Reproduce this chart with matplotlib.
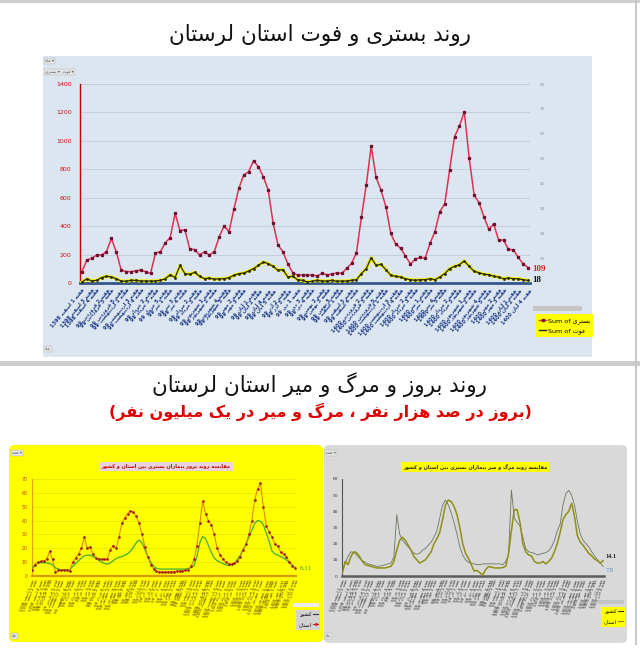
"""
Lorestan COVID charts: hospitalisation / death trend and incidence / mortality comparison.
"""
import re

import numpy as np
import matplotlib
matplotlib.use("Agg")
import matplotlib.pyplot as plt
from matplotlib.patches import Rectangle, FancyBboxPatch
from matplotlib.lines import Line2D

# ---- data -------------------------------------------------------------
hosp = [80, 162, 174, 197, 197, 220, 314, 220, 91, 80,
        80, 85, 91, 80, 68, 211, 220, 283, 319, 490,
        368, 375, 239, 235, 197, 220, 197, 220, 326, 401,
        361, 520, 666, 760, 783, 860, 818, 748, 654, 420,
        267, 220, 134, 72, 56, 56, 56, 56, 50, 68,
        56, 63, 72, 68, 103, 138, 213, 462, 689, 964,
        743, 654, 537, 349, 274, 244, 190, 134, 166, 181,
        174, 279, 361, 502, 556, 795, 1029, 1104, 1205, 877,
        619, 565, 466, 378, 415, 302, 302, 237, 233, 181,
        134, 109]
deaths = [7, 30, 14, 19, 38, 47, 42, 30, 14, 12,
          19, 19, 14, 14, 14, 14, 19, 30, 59, 38,
          124, 66, 61, 75, 47, 30, 35, 26, 30, 30,
          38, 54, 66, 70, 84, 101, 124, 148, 136, 117,
          89, 94, 42, 47, 23, 19, 7, 12, 19, 14,
          14, 19, 12, 14, 14, 19, 23, 66, 101, 178,
          124, 131, 94, 54, 47, 42, 30, 23, 19, 23,
          23, 30, 23, 42, 66, 101, 117, 129, 155, 117,
          82, 73, 61, 59, 47, 42, 30, 35, 30, 30,
          23, 18]

inc_prov = [4.5, 8, 10, 10.5, 11, 12, 18, 12, 3, 4,
            4.5, 4.5, 4, 3.5, 10, 13, 16, 20, 28, 20,
            21, 16, 13, 12.5, 12, 12, 12.5, 19, 22, 20,
            28, 38, 42, 45, 47, 46, 43, 38, 30, 21,
            14, 8, 5, 3.5, 3, 3, 3, 3, 3, 3.2,
            3.5, 3.5, 3.8, 4, 4.5, 7, 12, 22, 38, 54,
            45, 40, 37, 30, 20, 15, 12, 10, 9, 8.5,
            9.5, 10.5, 14, 19, 23, 30, 40, 55, 63, 67,
            50, 36, 32, 28, 23, 22, 17, 16, 14, 10,
            7.5, 5.5]
inc_country = [5.5, 8.5, 9.5, 9.5, 9.5, 9.5, 9, 8, 6, 5,
               4.5, 4.3, 4.3, 4.5, 7, 9, 11, 13, 14.5, 15,
               15, 14, 13, 11.5, 10, 9, 8.5, 9.5, 11, 12.5,
               13.5, 14, 15, 16, 18, 21, 24, 26, 24, 19,
               14, 10, 7, 5.5, 5, 5, 5, 5, 5, 5,
               5, 5, 5, 5, 5.5, 6, 7.5, 14, 24, 28.5,
               27, 22, 17, 13, 11, 10, 9, 8, 7.5, 8,
               9, 12, 15, 19, 23, 28, 33, 38, 40, 39.5,
               37, 31, 25, 18, 16, 15, 14, 13, 11.5, 10,
               8, 6]

mort_prov = [1.6, 9, 7, 12, 15, 14.5, 12, 9, 7, 6.5,
             6, 5.5, 5, 5, 5, 5, 5.5, 6, 9, 16,
             22, 24, 22, 19, 16, 12, 10, 8, 9, 10,
             12.5, 15, 20, 23, 27, 35, 44, 47, 46, 43,
             38, 30, 20, 14, 11, 7, 3, 3.5, 2, 0.6,
             4, 5.8, 5.5, 5, 5, 5, 5.2, 6, 14, 28,
             41, 41, 33, 20, 15, 13, 12.5, 9, 8, 8,
             9, 7.5, 9, 11, 15, 20, 27, 35, 38, 40,
             45, 37, 25, 21, 19, 16.5, 14, 12.5, 10.5, 9.5,
             8, 9.5]
mort_country = [2.5, 8, 12, 15, 14.5, 13, 11, 9.5, 8.5, 7.5,
                7, 6.5, 6, 6, 6.5, 7, 7.5, 8, 12, 38,
                26, 22, 20, 18, 16, 14, 13.5, 14, 16, 17,
                19, 21, 24, 28, 36, 44, 47, 44, 39, 33,
                26, 18, 13, 10, 8.5, 8, 7.5, 7, 7, 7.5,
                7.5, 7.5, 7.5, 7.5, 7.5, 7.5, 7, 9, 13, 53,
                36, 33, 31, 24, 17, 15, 14.5, 14, 13, 13.5,
                14, 14.5, 15.5, 18, 22, 28, 32, 44, 51, 53,
                50, 44, 34, 26, 22, 20, 18, 15, 12.5, 10,
                8, 6]

months = [(1398, "اسفند")] + \
         [(1399, m) for m in ["فروردین", "اردیبهشت", "خرداد", "تیر", "مرداد", "شهریور",
                              "مهر", "آبان", "آذر", "دی", "بهمن", "اسفند"]] + \
         [(1400, m) for m in ["فروردین", "اردیبهشت", "خرداد", "تیر", "مرداد", "شهریور",
                              "مهر", "آبان"]]
weeks_per_month = [4, 5, 4, 5, 4, 4, 5, 4, 5, 4, 4, 5, 4, 5, 4, 4, 5, 4, 5, 4, 4]

# ---- persian text helpers (matplotlib has no shaping / bidi) ------------
FORMS = {
    'ا': (0xFE8D, 0xFE8E, None, None), 'آ': (0xFE81, 0xFE82, None, None),
    'ب': (0xFE8F, 0xFE90, 0xFE91, 0xFE92), 'پ': (0xFB56, 0xFB57, 0xFB58, 0xFB59),
    'ت': (0xFE95, 0xFE96, 0xFE97, 0xFE98), 'ث': (0xFE99, 0xFE9A, 0xFE9B, 0xFE9C),
    'ج': (0xFE9D, 0xFE9E, 0xFE9F, 0xFEA0), 'چ': (0xFB7A, 0xFB7B, 0xFB7C, 0xFB7D),
    'ح': (0xFEA1, 0xFEA2, 0xFEA3, 0xFEA4), 'خ': (0xFEA5, 0xFEA6, 0xFEA7, 0xFEA8),
    'د': (0xFEA9, 0xFEAA, None, None), 'ذ': (0xFEAB, 0xFEAC, None, None),
    'ر': (0xFEAD, 0xFEAE, None, None), 'ز': (0xFEAF, 0xFEB0, None, None),
    'ژ': (0xFB8A, 0xFB8B, None, None),
    'س': (0xFEB1, 0xFEB2, 0xFEB3, 0xFEB4), 'ش': (0xFEB5, 0xFEB6, 0xFEB7, 0xFEB8),
    'ص': (0xFEB9, 0xFEBA, 0xFEBB, 0xFEBC), 'ض': (0xFEBD, 0xFEBE, 0xFEBF, 0xFEC0),
    'ط': (0xFEC1, 0xFEC2, 0xFEC3, 0xFEC4), 'ظ': (0xFEC5, 0xFEC6, 0xFEC7, 0xFEC8),
    'ع': (0xFEC9, 0xFECA, 0xFECB, 0xFECC), 'غ': (0xFECD, 0xFECE, 0xFECF, 0xFED0),
    'ف': (0xFED1, 0xFED2, 0xFED3, 0xFED4), 'ق': (0xFED5, 0xFED6, 0xFED7, 0xFED8),
    'ک': (0xFB8E, 0xFB8F, 0xFB90, 0xFB91), 'گ': (0xFB92, 0xFB93, 0xFB94, 0xFB95),
    'ل': (0xFEDD, 0xFEDE, 0xFEDF, 0xFEE0), 'م': (0xFEE1, 0xFEE2, 0xFEE3, 0xFEE4),
    'ن': (0xFEE5, 0xFEE6, 0xFEE7, 0xFEE8), 'و': (0xFEED, 0xFEEE, None, None),
    'ه': (0xFEE9, 0xFEEA, 0xFEEB, 0xFEEC), 'ی': (0xFBFC, 0xFBFD, 0xFBFE, 0xFBFF),
}
LAM_ALEF = {'ا': (0xFEFB, 0xFEFC), 'آ': (0xFEF5, 0xFEF6)}


def shape(s):
    out = []
    i = 0
    while i < len(s):
        c = s[i]
        if c not in FORMS:
            out.append(c)
            i += 1
            continue
        prev = s[i - 1] if i > 0 else None
        joins_prev = prev in FORMS and FORMS[prev][2] is not None
        if c == 'ل' and i + 1 < len(s) and s[i + 1] in LAM_ALEF:
            lig = LAM_ALEF[s[i + 1]]
            out.append(chr(lig[1] if joins_prev else lig[0]))
            i += 2
            continue
        nxt = s[i + 1] if i + 1 < len(s) else None
        iso, fin, ini, med = FORMS[c]
        joins_next = ini is not None and nxt in FORMS
        if joins_prev and joins_next:
            out.append(chr(med))
        elif joins_prev:
            out.append(chr(fin))
        elif joins_next:
            out.append(chr(ini))
        else:
            out.append(chr(iso))
        i += 1
    return ''.join(out)


def fa(text):
    """shape + reverse to visual order, digit runs stay left-to-right"""
    parts = re.findall(r'[0-9A-Za-z.]+|[^0-9A-Za-z.]+', shape(text))
    vis = []
    for p in reversed(parts):
        if re.match(r'[0-9A-Za-z.]', p):
            vis.append(p)
        else:
            vis.append(p[::-1].translate(str.maketrans('()', ')(')))
    return ''.join(vis)


week_labels = []
for (yr, m), nw in zip(months, weeks_per_month):
    ys = "99" if yr == 1399 else str(yr)
    for w in range(1, nw + 1):
        week_labels.append(fa(f"هفته {w} {m} {ys}"))

# ---- figure ----------------------------------------------------------
W, H = 640, 660
plt.rcParams['font.family'] = ['DejaVu Sans']
fig = plt.figure(figsize=(W / 100, H / 100), dpi=100)


def box(x0, y0, x1, y1):
    return [x0 / W, 1 - y1 / H, (x1 - x0) / W, (y1 - y0) / H]


def fx(x):
    return x / W


def fy(y):
    return 1 - y / H


def panel(x0, y0, x1, y1, color, round_=False):
    if round_:
        p = FancyBboxPatch((fx(x0), fy(y1)), (x1 - x0) / W, (y1 - y0) / H,
                           boxstyle="round,pad=0,rounding_size=0.008",
                           facecolor=color, edgecolor='none',
                           transform=fig.transFigure, zorder=-1)
    else:
        p = Rectangle((fx(x0), fy(y1)), (x1 - x0) / W, (y1 - y0) / H,
                      facecolor=color, edgecolor='none',
                      transform=fig.transFigure, zorder=-1)
    fig.add_artist(p)


def tag(x, y, s, size=3):
    fig.text(fx(x), fy(y), s, fontsize=size, color='#555555', ha='left', va='center',
             bbox=dict(boxstyle='square,pad=0.25', facecolor='#e4e4e4', edgecolor='#b0b0b0', lw=0.3))


# screenshot frame lines
panel(0, 0, 640, 3, '#cfcfcf')
panel(0, 361, 640, 366, '#cdcdcd')
panel(635, 0, 637, 645, '#c8c8c8')

x = np.arange(len(hosp))

# ---------------- top chart -----------------
fig.text(0.5, fy(35), fa("روند بستری و فوت استان لرستان"), ha='center', va='center',
         fontsize=15.5, color='#111111')
panel(43, 56, 592, 357, '#dce6f1')
tag(45, 61, fa("ماه") + " ▾")
tag(45, 72, fa("بستری") + " ▾  " + fa("فوت") + " ▾")
tag(45, 349, fa("ماه"))

ax1 = fig.add_axes(box(80, 84, 530, 283))
ax1.patch.set_visible(False)
ax1.set_xlim(-0.4, len(hosp) - 0.6)
ax1.set_ylim(0, 1400)
ax1.set_yticks(range(0, 1401, 200))
ax1.tick_params(axis='y', length=0, labelsize=4.5, labelcolor='#d01010', pad=6)
ax1.grid(axis='y', color='#c4cfdc', lw=0.7)
ax1.set_axisbelow(True)
for s in ['top', 'right']:
    ax1.spines[s].set_visible(False)
ax1.spines['left'].set_color('#c00000')
ax1.spines['left'].set_linewidth(1.0)
ax1.spines['bottom'].set_color('#34568b')
ax1.spines['bottom'].set_linewidth(2)

ax1.plot(x, deaths, color='#f2f200', lw=2.4, solid_joinstyle='round', zorder=3)
ax1.plot(x, deaths, color='#2a2a10', lw=0.9, marker='o', ms=1.0, zorder=4)
ax1.plot(x, hosp, color='#e03050', lw=1.1, marker='s', ms=1.4,
         mfc='#6e1030', mec='#6e1030', zorder=5)
ax1.annotate(str(hosp[-1]), xy=(x[-1], hosp[-1]), xytext=(3, -1), textcoords='offset points',
             color='#e02020', fontsize=6.5, family='Liberation Serif', weight='bold', va='center')
ax1.annotate(str(deaths[-1]), xy=(x[-1], deaths[-1]), xytext=(3, 0), textcoords='offset points',
             color='#111111', fontsize=6.5, family='Liberation Serif', weight='bold', va='center')

ticks_top = np.round(np.linspace(0, len(hosp) - 1, 61)).astype(int)
ax1.set_xticks(ticks_top)
ax1.set_xticklabels([week_labels[i] for i in ticks_top], rotation=50, ha='right',
                    rotation_mode='anchor', fontsize=3.6, color='#1f3c88', weight='bold')
ax1.tick_params(axis='x', length=0, pad=3)

ax1r = ax1.twinx()
ax1r.set_ylim(0, 80)
ax1r.set_yticks(range(10, 81, 10))
ax1r.tick_params(axis='y', length=0, labelsize=3, labelcolor='#8a949e', pad=7)
for s in ax1r.spines.values():
    s.set_visible(False)

panel(533, 306, 582, 311, '#c6c6c6')
h_red = Line2D([], [], color='#e03050', lw=1, marker='s', ms=2, mfc='#6e1030', mec='#6e1030')
h_blk = Line2D([], [], color='#222222', lw=1)
fig.legend([h_red, h_blk], ["Sum of " + fa("بستری"), "Sum of " + fa("فوت")],
           loc='upper left', bbox_to_anchor=(fx(533), fy(311)), fontsize=4.6,
           facecolor='#ffff00', edgecolor='none', framealpha=1, fancybox=False,
           handlelength=1.0, handletextpad=0.3, borderpad=0.5, labelspacing=0.6)

# ---------------- bottom headers -----------------
fig.text(0.5, fy(385), fa("روند بروز و مرگ و میر استان لرستان"), ha='center', va='center',
         fontsize=15.5, color='#111111')
fig.text(0.5, fy(412), fa("(بروز در صد هزار نفر ، مرگ و میر در یک میلیون نفر)"),
         ha='center', va='center', fontsize=11.5, color='#e00000', weight='bold')

# ---------------- incidence (yellow) -----------------
panel(9, 445, 323, 642, '#ffff00', round_=True)
tag(12, 453, fa("هفته") + " ▾", size=2.6)
tag(12, 636, fa("ماه"), size=2.6)
fig.text(fx(166), fy(466), fa("مقایسه روند بروز بیماران بستری بین استان و کشور"),
         ha='center', va='center', fontsize=3.6, color='#c00000', weight='bold',
         bbox=dict(boxstyle='square,pad=0.4', facecolor='#ead3da', edgecolor='none'))

ax2 = fig.add_axes(box(32, 479, 296, 576))
ax2.patch.set_visible(False)
ax2.set_xlim(-0.1, len(inc_prov) - 0.7)
ax2.set_ylim(0, 70)
ax2.set_yticks(range(0, 71, 10))
ax2.tick_params(axis='y', length=0, labelsize=3.4, labelcolor='#c04000', pad=3)
ax2.grid(axis='y', color='#e3e300', lw=0.5)
for s in ['top', 'right']:
    ax2.spines[s].set_visible(False)
ax2.spines['left'].set_color('#e8a000')
ax2.spines['left'].set_linewidth(0.8)
ax2.spines['bottom'].set_color('#d89a00')
ax2.spines['bottom'].set_linewidth(1.6)
ax2.plot(x, inc_country, color='#3fae3a', lw=0.9, zorder=3)
ax2.plot(x, inc_prov, color='#de7a00', lw=0.7, marker='o', ms=0.9,
         mfc='#a01818', mec='#a01818', zorder=4)
ax2.annotate("6.11", xy=(x[-1], inc_prov[-1]), xytext=(3, 0), textcoords='offset points',
             color='#2a9a2a', fontsize=5, family='Liberation Serif', va='center')

ticks_bot = np.round(np.linspace(0, len(inc_prov) - 1, 71)).astype(int)
ax2.set_xticks(ticks_bot)
ax2.set_xticklabels([week_labels[i] for i in ticks_bot], rotation=68, ha='right',
                    rotation_mode='anchor', fontsize=3.0, color='#5a3a00')
ax2.tick_params(axis='x', length=0, pad=2)

panel(293, 603, 319, 607, '#ececec')
fig.legend([Line2D([], [], color='#3a3a3a', lw=0.8),
            Line2D([], [], color='#d02020', lw=0.8, marker='o', ms=1.2)],
           [fa("کشور"), fa("استان")], markerfirst=False,
           loc='upper left', bbox_to_anchor=(fx(293), fy(607)), fontsize=3.8,
           facecolor='#d2d2d2', edgecolor='none', framealpha=1, fancybox=False,
           handlelength=0.8, handletextpad=0.4, borderpad=0.5, labelspacing=0.9)

# ---------------- mortality (gray) -----------------
panel(324, 445, 627, 643, '#d9d9d9', round_=True)
tag(326, 453, fa("هفته") + " ▾", size=2.6)
tag(326, 636, fa("ماه"), size=2.6)
fig.text(fx(475), fy(467), fa("مقایسه روند مرگ و میر بیماران بستری بین استان و کشور"),
         ha='center', va='center', fontsize=3.6, color='#222222', weight='bold',
         bbox=dict(boxstyle='square,pad=0.4', facecolor='#ffff00', edgecolor='none'))

ax3 = fig.add_axes(box(342, 479, 604, 576))
ax3.patch.set_visible(False)
ax3.set_xlim(-0.1, len(mort_prov) - 0.7)
ax3.set_ylim(0, 60)
ax3.set_yticks(range(0, 61, 10))
ax3.tick_params(axis='y', length=0, labelsize=3.2, labelcolor='#333333', pad=3)
for s in ['top', 'right']:
    ax3.spines[s].set_visible(False)
ax3.spines['left'].set_color('#555555')
ax3.spines['left'].set_linewidth(0.8)
ax3.spines['bottom'].set_color('#5c5c5c')
ax3.spines['bottom'].set_linewidth(1.8)
ax3.plot(x, mort_country, color='#6b7860', lw=0.6, zorder=3)
ax3.plot(x, mort_prov, color='#8f8f14', lw=1.1, zorder=4)
ax3.annotate("14.1", xy=(x[-1], mort_prov[-1]), xytext=(2, 3), textcoords='offset points',
             color='#222222', fontsize=4.5, family='Liberation Serif', weight='bold', va='center')
ax3.annotate("7.8", xy=(x[-1], mort_country[-1]), xytext=(2, -3), textcoords='offset points',
             color='#4a88c8', fontsize=4.5, family='Liberation Serif', va='center')

ax3.set_xticks(ticks_bot)
ax3.set_xticklabels([week_labels[i] for i in ticks_bot], rotation=68, ha='right',
                    rotation_mode='anchor', fontsize=3.0, color='#333333')
ax3.tick_params(axis='x', length=0, pad=2)

panel(598, 600, 624, 604, '#c4c4c4')
fig.legend([Line2D([], [], color='#3a3a3a', lw=0.8),
            Line2D([], [], color='#8f8f14', lw=0.8)],
           [fa("کشور"), fa("استان")], markerfirst=False,
           loc='upper left', bbox_to_anchor=(fx(598), fy(604)), fontsize=3.8,
           facecolor='#ffff00', edgecolor='none', framealpha=1, fancybox=False,
           handlelength=0.8, handletextpad=0.4, borderpad=0.5, labelspacing=0.9)

fig.savefig("out.png", dpi=100)
